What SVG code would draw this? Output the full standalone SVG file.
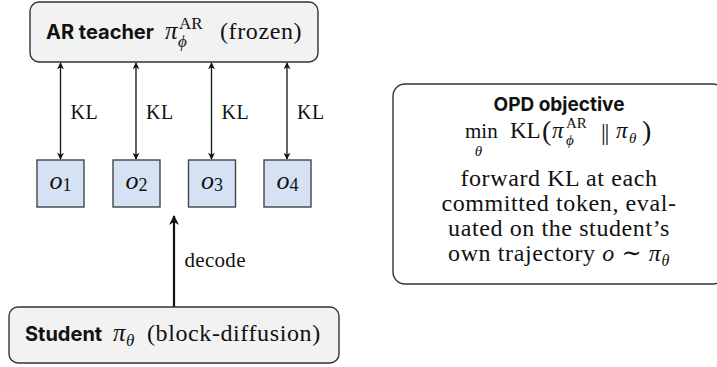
<svg xmlns="http://www.w3.org/2000/svg" width="717" height="367" viewBox="0 0 717 367">
<style>
.box{fill:#f2f2f2;stroke:#333;stroke-width:1.4}
.tok{fill:#d5e2f3;stroke:#444;stroke-width:1.4}
.obj{fill:#fff;stroke:#333;stroke-width:1.4}
.sans{font-family:Inter,"Liberation Sans",sans-serif;font-weight:700;fill:#111}
.serif{font-family:"Liberation Serif","DejaVu Serif",serif;fill:#111}
.it{font-style:italic}
.kl{stroke:#111;stroke-width:1.3;fill:none}
.dec{stroke:#111;stroke-width:2.2;fill:none}
.lbl{font-size:20px;letter-spacing:0.5px}
.body{font-size:24px;letter-spacing:0.6px}
</style>
<defs>
<marker id="ah" viewBox="0 0 10 10" refX="9" refY="5" markerWidth="7" markerHeight="7" orient="auto-start-reverse" markerUnits="userSpaceOnUse">
<path d="M0,0 L10,5 L0,10 L3,5 Z" fill="#111"/>
</marker>
<marker id="ah2" viewBox="0 0 10 10" refX="9" refY="5" markerWidth="10" markerHeight="10" orient="auto" markerUnits="userSpaceOnUse">
<path d="M0,0 L10,5 L0,10 L3,5 Z" fill="#111"/>
</marker>
</defs>

<g id="connectors">
<line class="kl" x1="60.5" y1="63" x2="60.5" y2="159" marker-start="url(#ah)" marker-end="url(#ah)"/>
<line class="kl" x1="136" y1="63" x2="136" y2="159" marker-start="url(#ah)" marker-end="url(#ah)"/>
<line class="kl" x1="211.5" y1="63" x2="211.5" y2="159" marker-start="url(#ah)" marker-end="url(#ah)"/>
<line class="kl" x1="287" y1="63" x2="287" y2="159" marker-start="url(#ah)" marker-end="url(#ah)"/>
<text class="serif lbl" x="70.5" y="118.5">KL</text>
<text class="serif lbl" x="146" y="118.5">KL</text>
<text class="serif lbl" x="221.5" y="118.5">KL</text>
<text class="serif lbl" x="297" y="118.5">KL</text>
<line class="dec" x1="174" y1="307" x2="174" y2="216" marker-end="url(#ah2)"/>
<text class="serif" x="184.5" y="267" font-size="21" letter-spacing="0.3">decode</text>
</g>

<g id="teacher">
<rect class="box" x="30" y="2" width="288" height="60" rx="9"/>
<text class="sans" x="46" y="39" font-size="20">AR teacher</text>
<text class="serif it" x="165" y="39" font-size="25">π</text>
<text class="serif" x="179" y="29" font-size="17">AR</text>
<text class="serif it" x="178" y="47" font-size="17">ϕ</text>
<text class="serif" x="220" y="39" font-size="24" letter-spacing="0.6">(frozen)</text>
</g>

<g id="o1">
<rect class="tok" x="37" y="160" width="47" height="47"/>
<text class="serif" x="60.5" y="189" text-anchor="middle"><tspan class="it" font-size="26">o</tspan><tspan font-size="18" dy="2">1</tspan></text>
</g>
<g id="o2">
<rect class="tok" x="113" y="160" width="47" height="47"/>
<text class="serif" x="136.5" y="189" text-anchor="middle"><tspan class="it" font-size="26">o</tspan><tspan font-size="18" dy="2">2</tspan></text>
</g>
<g id="o3">
<rect class="tok" x="188.5" y="160" width="47" height="47"/>
<text class="serif" x="212" y="189" text-anchor="middle"><tspan class="it" font-size="26">o</tspan><tspan font-size="18" dy="2">3</tspan></text>
</g>
<g id="o4">
<rect class="tok" x="264" y="160" width="47" height="47"/>
<text class="serif" x="287.5" y="189" text-anchor="middle"><tspan class="it" font-size="26">o</tspan><tspan font-size="18" dy="2">4</tspan></text>
</g>

<g id="student">
<rect class="box" x="9" y="307" width="330" height="56" rx="9"/>
<text class="sans" x="25" y="341" font-size="20">Student</text>
<text class="serif it" x="113" y="341" font-size="25">π</text>
<text class="serif it" x="126" y="346" font-size="17">θ</text>
<text class="serif" x="147" y="341" font-size="24" letter-spacing="0.6">(block-diffusion)</text>
</g>

<g id="objective">
<rect class="obj" x="393" y="84" width="332" height="200" rx="12"/>
<text class="sans" x="559" y="111" text-anchor="middle" font-size="19">OPD objective</text>
<text class="serif" x="465" y="138" font-size="21">min</text>
<text class="serif it" x="478.5" y="156" text-anchor="middle" font-size="15">θ</text>
<text class="serif" x="510" y="138" font-size="23">KL</text>
<text class="serif" x="542" y="140" font-size="28">(</text>
<text class="serif it" x="552" y="138" font-size="23">π</text>
<text class="serif" x="566" y="128" font-size="15">AR</text>
<text class="serif it" x="566" y="145" font-size="15">ϕ</text>
<text class="serif" x="601" y="140" font-size="24" letter-spacing="-1.2">||</text>
<text class="serif it" x="616" y="138" font-size="23">π</text>
<text class="serif it" x="629" y="143" font-size="15">θ</text>
<text class="serif" x="642" y="140" font-size="28">)</text>
<text class="serif body" x="559" y="186" text-anchor="middle">forward KL at each</text>
<text class="serif body" x="559" y="211" text-anchor="middle">committed token, eval-</text>
<text class="serif body" x="559" y="236" text-anchor="middle">uated on the student’s</text>
<text class="serif body" x="559" y="261" text-anchor="middle">own trajectory <tspan class="it">o</tspan>  ∼  <tspan class="it">π</tspan><tspan class="it" font-size="16" dy="5">θ</tspan></text>
</g>
</svg>
